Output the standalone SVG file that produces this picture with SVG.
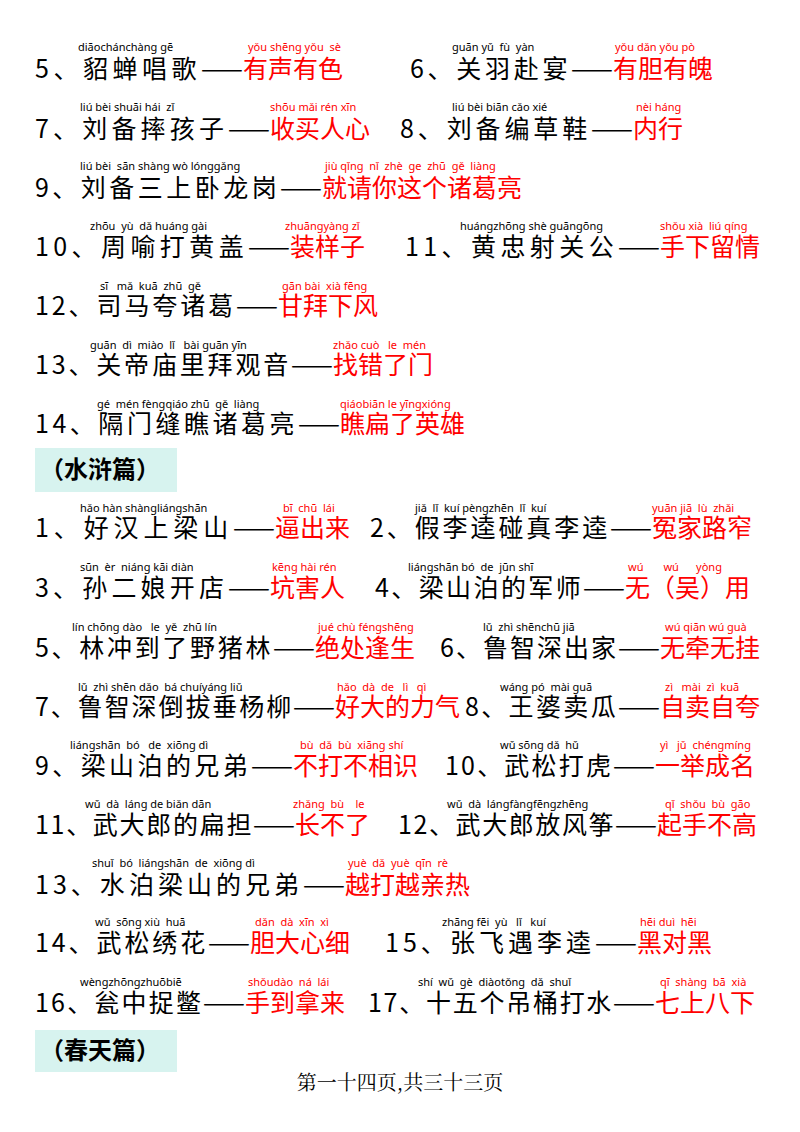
<svg xmlns="http://www.w3.org/2000/svg" width="800" height="1132" viewBox="0 0 800 1132">
<style>
.k{font-family:"Noto Sans CJK SC","Noto Sans",sans-serif;font-size:25px;fill:#000}
.r{font-family:"Noto Sans CJK SC","Noto Sans",sans-serif;font-size:25px;fill:#f00}
.p{font-family:"Noto Sans","DejaVu Sans",sans-serif;font-size:11px;fill:#000;white-space:pre}
.pr{font-family:"Noto Sans","DejaVu Sans",sans-serif;font-size:11px;fill:#f00;white-space:pre}
.h{font-family:"Noto Sans CJK SC",sans-serif;font-size:24px;font-weight:bold;fill:#000}
.f{font-family:"Noto Serif CJK SC","Noto Sans CJK SC",serif;font-size:20px;fill:#000}
</style>
<rect width="800" height="1132" fill="#fff"/>
<g id="r1"><text class="p" x="78" y="51">diāochánchàng gē</text><text class="pr" x="248" y="51">yǒu shēng yǒu  sè</text><text class="p" x="452" y="51">guān yǔ  fù  yàn</text><text class="pr" x="615" y="51">yǒu dǎn yǒu pò</text>
<text class="k" x="35" y="78" textLength="208" lengthAdjust="spacing">5、貂蝉唱歌——</text><text class="r" x="243" y="78">有声有色</text><text class="k" x="410" y="78" textLength="203" lengthAdjust="spacing">6、关羽赴宴——</text><text class="r" x="613" y="78">有胆有魄</text></g>
<g id="r2"><text class="p" x="80" y="111">liú bèi shuāi hái  zǐ</text><text class="pr" x="270" y="111">shōu mǎi rén xīn</text><text class="p" x="452" y="111">liú bèi biān cǎo xié</text><text class="pr" x="636" y="111">nèi háng</text>
<text class="k" x="35" y="138" textLength="235" lengthAdjust="spacing">7、刘备摔孩子——</text><text class="r" x="270" y="138">收买人心</text><text class="k" x="400" y="138" textLength="233" lengthAdjust="spacing">8、刘备编草鞋——</text><text class="r" x="633" y="138">内行</text></g>
<g id="r3"><text class="p" x="80" y="170">liú bèi  sān shàng wò lónggǎng</text><text class="pr" x="325" y="170">jiù qǐng  nǐ  zhè  ge  zhū  gě  liàng</text>
<text class="k" x="35" y="197" textLength="287" lengthAdjust="spacing">9、刘备三上卧龙岗——</text><text class="r" x="322" y="197">就请你这个诸葛亮</text></g>
<g id="r4"><text class="p" x="90" y="230">zhōu  yù  dǎ huáng gài</text><text class="pr" x="285" y="230">zhuāngyàng zǐ</text><text class="p" x="460" y="230">huángzhōng shè guāngōng</text><text class="pr" x="660" y="230">shǒu xià  liú qíng</text>
<text class="k" x="35" y="256" textLength="255" lengthAdjust="spacing">10、周喻打黄盖——</text><text class="r" x="290" y="256">装样子</text><text class="k" x="405" y="256" textLength="255" lengthAdjust="spacing">11、黄忠射关公——</text><text class="r" x="660" y="256">手下留情</text></g>
<g id="r5"><text class="p" x="100" y="290">sī   mǎ  kuā  zhū  gě</text><text class="pr" x="282" y="290">gān bài  xià fēng</text>
<text class="k" x="35" y="315" textLength="243" lengthAdjust="spacing">12、司马夸诸葛——</text><text class="r" x="278" y="315">甘拜下风</text></g>
<g id="r6"><text class="p" x="90" y="349">guān  dì  miào  lǐ   bài guān yīn</text><text class="pr" x="333" y="349">zhǎo cuò   le  mén</text>
<text class="k" x="35" y="374" textLength="298" lengthAdjust="spacing">13、关帝庙里拜观音——</text><text class="r" x="333" y="374">找错了门</text></g>
<g id="r7"><text class="p" x="97" y="408">gé  mén fèngqiáo zhū  gě  liàng</text><text class="pr" x="340" y="408">qiáobiān le yīngxióng</text>
<text class="k" x="35" y="433" textLength="305" lengthAdjust="spacing">14、隔门缝瞧诸葛亮——</text><text class="r" x="340" y="433">瞧扁了英雄</text></g>
<g id="h1"><rect x="35" y="448" width="142" height="44" fill="#d7f3ef"/><text class="h" x="40" y="478">（水浒篇）</text></g>
<g id="r8"><text class="p" x="80" y="512">hǎo hàn shàngliángshān</text><text class="pr" x="283" y="512">bī  chū  lái</text><text class="p" x="415" y="512">jiǎ  lǐ  kuí pèngzhēn  lǐ  kuí</text><text class="pr" x="652" y="512">yuān jiā  lù  zhǎi</text>
<text class="k" x="35" y="537" textLength="240" lengthAdjust="spacing">1、好汉上梁山——</text><text class="r" x="275" y="537">逼出来</text><text class="k" x="370" y="537" textLength="282" lengthAdjust="spacing">2、假李逵碰真李逵——</text><text class="r" x="652" y="537">冤家路窄</text></g>
<g id="r9"><text class="p" x="80" y="571">sūn  èr  niáng kāi diàn</text><text class="pr" x="272" y="571">kēng hài rén</text><text class="p" x="408" y="571">liángshān bó  de  jūn shī</text><text class="pr" x="628" y="571">wú       wú      yòng</text>
<text class="k" x="35" y="597" textLength="235" lengthAdjust="spacing">3、孙二娘开店——</text><text class="r" x="270" y="597">坑害人</text><text class="k" x="375" y="597" textLength="250" lengthAdjust="spacing">4、梁山泊的军师——</text><text class="r" x="625" y="597">无（吴）用</text></g>
<g id="r10"><text class="p" x="72" y="631">lín chōng dào   le  yě  zhū lín</text><text class="pr" x="318" y="631">jué chù féngshēng</text><text class="p" x="483" y="631">lǔ  zhì shēnchū jiā</text><text class="pr" x="665" y="631">wú qiān wú guà</text>
<text class="k" x="35" y="657" textLength="280" lengthAdjust="spacing">5、林冲到了野猪林——</text><text class="r" x="315" y="657">绝处逢生</text><text class="k" x="440" y="657" textLength="220" lengthAdjust="spacing">6、鲁智深出家——</text><text class="r" x="660" y="657">无牵无挂</text></g>
<g id="r11"><text class="p" x="78" y="691">lǔ  zhì shēn dǎo  bá chuíyáng liǔ</text><text class="pr" x="337" y="691">hǎo  dà  de   lì   qì</text><text class="p" x="500" y="691">wáng pó  mài guā</text><text class="pr" x="665" y="691">zì   mài  zì  kuā</text>
<text class="k" x="35" y="716" textLength="300" lengthAdjust="spacing">7、鲁智深倒拔垂杨柳——</text><text class="r" x="335" y="716">好大的力气</text><text class="k" x="465" y="716" textLength="195" lengthAdjust="spacing">8、王婆卖瓜——</text><text class="r" x="660" y="716">自卖自夸</text></g>
<g id="r12"><text class="p" x="70" y="749">liángshān  bó   de  xiōng dì</text><text class="pr" x="300" y="749">bù  dǎ  bù  xiāng shí</text><text class="p" x="500" y="749">wǔ sōng dǎ  hǔ</text><text class="pr" x="660" y="749">yì   jǔ  chéngmíng</text>
<text class="k" x="35" y="775" textLength="258" lengthAdjust="spacing">9、梁山泊的兄弟——</text><text class="r" x="293" y="775">不打不相识</text><text class="k" x="445" y="775" textLength="210" lengthAdjust="spacing">10、武松打虎——</text><text class="r" x="655" y="775">一举成名</text></g>
<g id="r13"><text class="p" x="85" y="808">wǔ  dà  láng de biǎn dān</text><text class="pr" x="293" y="808">zhǎng  bù    le</text><text class="p" x="447" y="808">wǔ  dà  lángfàngfēngzhēng</text><text class="pr" x="665" y="808">qǐ  shǒu  bù  gāo</text>
<text class="k" x="35" y="834" textLength="260" lengthAdjust="spacing">11、武大郎的扁担——</text><text class="r" x="295" y="834">长不了</text><text class="k" x="398" y="834" textLength="259" lengthAdjust="spacing">12、武大郎放风筝——</text><text class="r" x="657" y="834">起手不高</text></g>
<g id="r14"><text class="p" x="92" y="867">shuǐ  bó  liángshān  de  xiōng dì</text><text class="pr" x="348" y="867">yuè  dǎ  yuè  qīn  rè</text>
<text class="k" x="35" y="894" textLength="310" lengthAdjust="spacing">13、水泊梁山的兄弟——</text><text class="r" x="345" y="894">越打越亲热</text></g>
<g id="r15"><text class="p" x="95" y="926">wǔ  sōng xiù  huā</text><text class="pr" x="255" y="926">dǎn  dà  xīn  xì</text><text class="p" x="442" y="926">zhāng fēi  yù   lǐ   kuí</text><text class="pr" x="640" y="926">hēi duì  hēi</text>
<text class="k" x="35" y="952" textLength="215" lengthAdjust="spacing">14、武松绣花——</text><text class="r" x="250" y="952">胆大心细</text><text class="k" x="385" y="952" textLength="252" lengthAdjust="spacing">15、张飞遇李逵——</text><text class="r" x="637" y="952">黑对黑</text></g>
<g id="r16"><text class="p" x="80" y="986">wèngzhōngzhuōbiē</text><text class="pr" x="248" y="986">shǒudào  ná  lái</text><text class="p" x="418" y="986">shí  wǔ  gè  diàotǒng  dǎ  shuǐ</text><text class="pr" x="660" y="986">qī  shàng  bā  xià</text>
<text class="k" x="35" y="1012" textLength="210" lengthAdjust="spacing">16、瓮中捉鳖——</text><text class="r" x="245" y="1012">手到拿来</text><text class="k" x="368" y="1012" textLength="287" lengthAdjust="spacing">17、十五个吊桶打水——</text><text class="r" x="655" y="1012">七上八下</text></g>
<g id="h2"><rect x="35" y="1030" width="142" height="42" fill="#d7f3ef"/><text class="h" x="40" y="1059">（春天篇）</text></g>
<g id="foot"><text class="f" x="400" y="1090" text-anchor="middle">第一十四页,共三十三页</text></g>
<g id="connectors"/>
</svg>
